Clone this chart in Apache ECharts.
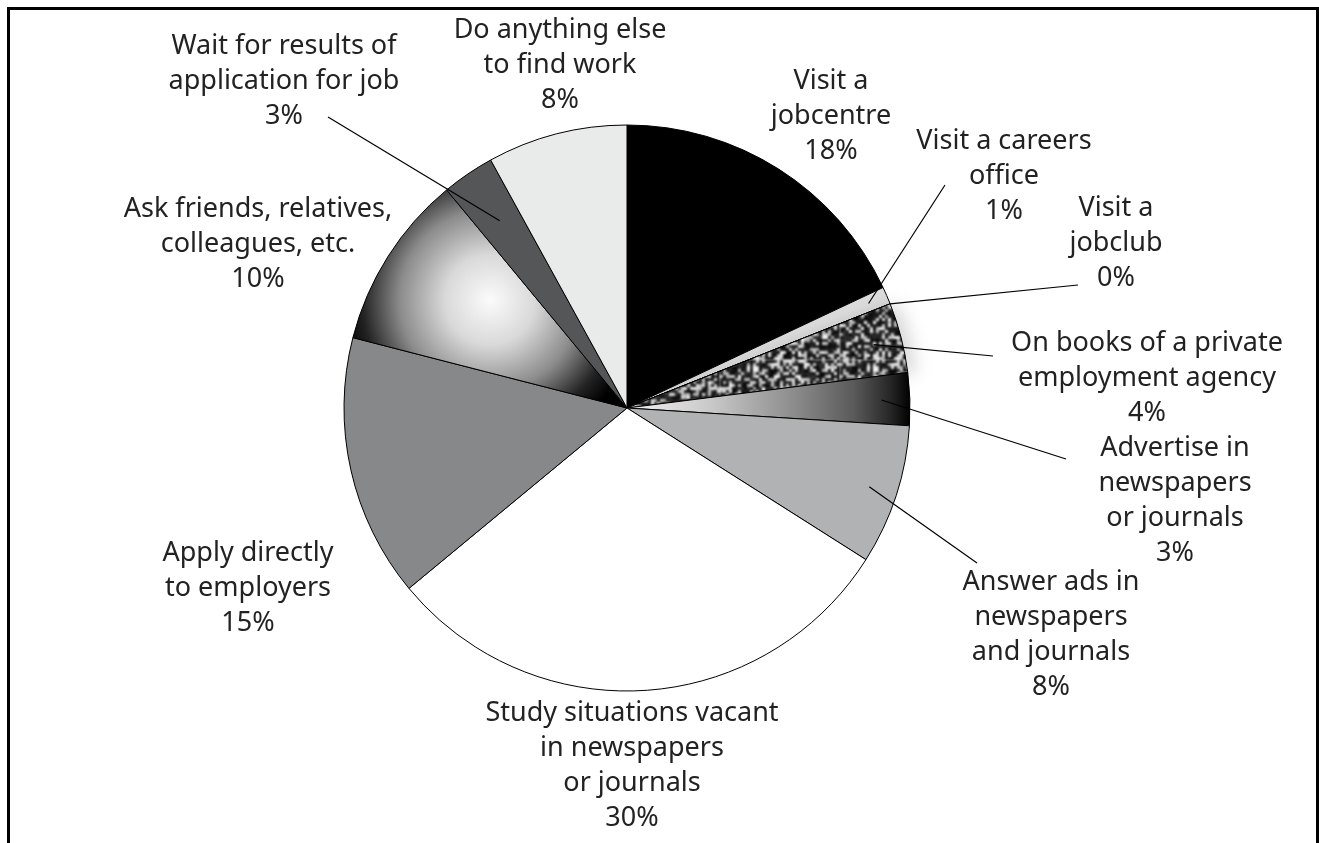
<!DOCTYPE html>
<html>
<head>
<meta charset="utf-8">
<script src="https://cdn.jsdelivr.net/npm/echarts@6/dist/echarts.min.js"></script>
<style>
  html, body { margin: 0; padding: 0; background: #fff; overflow: hidden; }
  #frame {
    position: absolute; left: 7px; top: 7px; width: 1312px; height: 900px;
    border: 3px solid #000; box-sizing: border-box;
  }
  #chart { position: absolute; left: 0; top: 0; width: 1319px; height: 843px; }
</style>
</head>
<body>
<div id="frame"></div>
<div id="chart"></div>
<script>
// Job-search methods used, share of respondents (%)
const categories = [
  'Visit a\njobcentre',
  'Visit a careers\noffice',
  'Visit a\njobclub',
  'On books of a private\nemployment agency',
  'Advertise in\nnewspapers\nor journals',
  'Answer ads in\nnewspapers\nand journals',
  'Study situations vacant\nin newspapers\nor journals',
  'Apply directly\nto employers',
  'Ask friends, relatives,\ncolleagues, etc.',
  'Wait for results of\napplication for job',
  'Do anything else\nto find work'
];
const shares = [18, 1, 0, 4, 3, 8, 30, 15, 10, 3, 8];

// Pie geometry
const CX = 627, CY = 408, R = 283;

// Label block centres, and where a leader line is drawn:
// [labelX, labelY, leaderEndX, leaderEndY, leaderStartFraction]
const labelPlacement = [
  [831, 116, null, null, null],
  [1004, 176, 945, 185, 0.93],
  [1116, 243, 1078, 285, 1.0],
  [1147, 378, 993, 356, 0.9],
  [1175, 501, 1066, 459, 0.9],
  [1051, 635, 977, 563, 0.9],
  [632, 766, null, null, null],
  [248, 588, null, null, null],
  [258, 244, null, null, null],
  [284, 81, 328, 117, 0.8],
  [560, 65, null, null, null]
];

// Speckled texture for the private-agency slice
function makeSpeckle() {
  const size = 120, cell = 3;
  const raw = document.createElement('canvas');
  raw.width = raw.height = size;
  const ctx = raw.getContext('2d');
  let seed = 20240611;
  const rnd = () => { seed = (seed * 1664525 + 1013904223) >>> 0; return seed / 4294967296; };
  for (let y = 0; y < size; y += cell) {
    for (let x = 0; x < size; x += cell) {
      const r = rnd();
      const g = r < 0.6 ? Math.floor(5 + rnd() * 45) : Math.floor(170 + rnd() * 85);
      ctx.fillStyle = 'rgb(' + g + ',' + g + ',' + g + ')';
      ctx.fillRect(x, y, cell, cell);
    }
  }
  const out = document.createElement('canvas');
  out.width = out.height = size;
  const o = out.getContext('2d');
  o.filter = 'blur(1px)';
  for (let dx = -1; dx <= 1; dx++) {
    for (let dy = -1; dy <= 1; dy++) o.drawImage(raw, dx * size, dy * size);
  }
  return out;
}

const fills = [
  '#000000',
  '#dcdcdc',
  '#c8c8c8',
  { image: makeSpeckle(), repeat: 'repeat' },
  { type: 'linear', x: 0, y: 0, x2: 1, y2: 0, colorStops: [
    { offset: 0, color: '#f2f2f2' },
    { offset: 0.3, color: '#c8c8c8' },
    { offset: 0.6, color: '#8a8a8a' },
    { offset: 0.8, color: '#5a5a5a' },
    { offset: 0.93, color: '#262626' },
    { offset: 1, color: '#000000' }
  ] },
  '#b1b2b3',
  '#ffffff',
  '#87888a',
  { type: 'radial', x: 490, y: 300, r: 150, global: true, colorStops: [
    { offset: 0, color: '#fbfbfb' },
    { offset: 0.3, color: '#d9d9d9' },
    { offset: 0.6, color: '#8c8c8c' },
    { offset: 0.85, color: '#232323' },
    { offset: 1, color: '#000000' }
  ] },
  '#555658',
  '#e9eaea'
];

const total = shares.reduce((a, b) => a + b, 0);
function midAngle(i) {
  let before = 0;
  for (let k = 0; k < i; k++) before += shares[k];
  return (before + shares[i] / 2) / total * Math.PI * 2;
}

// Filled slices
const sliceData = categories.map((name, i) => {
  const item = { name: name, value: shares[i], itemStyle: { color: fills[i] } };
  if (i === 3) {
    item.itemStyle.shadowBlur = 18;
    item.itemStyle.shadowColor = 'rgba(0,0,0,0.16)';
    item.itemStyle.shadowOffsetX = 8;
  }
  return item;
});

// Same slices again, unfilled, carrying the labels and leader lines above the fills
const labelData = categories.map((name, i) => ({
  name: name,
  value: shares[i],
  labelLine: { show: labelPlacement[i][2] != null }
}));

const chart = echarts.init(document.getElementById('chart'), null, { renderer: 'canvas' });
chart.setOption({
  backgroundColor: 'transparent',
  animation: false,
  series: [{
    type: 'pie',
    z: 2,
    center: [CX, CY],
    radius: R,
    startAngle: 90,
    clockwise: true,
    minAngle: 0,
    stillShowZeroSum: true,
    silent: true,
    itemStyle: { borderColor: '#000', borderWidth: 1 },
    emphasis: { disabled: true },
    label: { show: false },
    labelLine: { show: false },
    data: sliceData
  }, {
    type: 'pie',
    z: 5,
    center: [CX, CY],
    radius: R,
    startAngle: 90,
    clockwise: true,
    minAngle: 0,
    stillShowZeroSum: true,
    avoidLabelOverlap: false,
    silent: true,
    itemStyle: { color: 'rgba(0,0,0,0)', borderWidth: 0 },
    emphasis: { disabled: true },
    label: {
      show: true,
      position: 'outside',
      formatter: p => p.name + '\n' + p.value + '%',
      fontFamily: 'Noto Sans',
      fontSize: 27,
      lineHeight: 35,
      color: '#222222',
      align: 'center'
    },
    labelLine: {
      show: true,
      lineStyle: { color: '#000', width: 1.2 }
    },
    labelLayout: function (params) {
      const i = params.dataIndex;
      const p = labelPlacement[i];
      const res = { x: p[0], y: p[1], align: 'center', verticalAlign: 'middle' };
      if (p[2] != null) {
        const a = midAngle(i);
        const r = R * p[4];
        const sx = CX + r * Math.sin(a);
        const sy = CY - r * Math.cos(a);
        res.labelLinePoints = [[sx, sy], [p[2], p[3]], [p[2], p[3]]];
      }
      return res;
    },
    data: labelData
  }]
});
</script>
</body>
</html>
